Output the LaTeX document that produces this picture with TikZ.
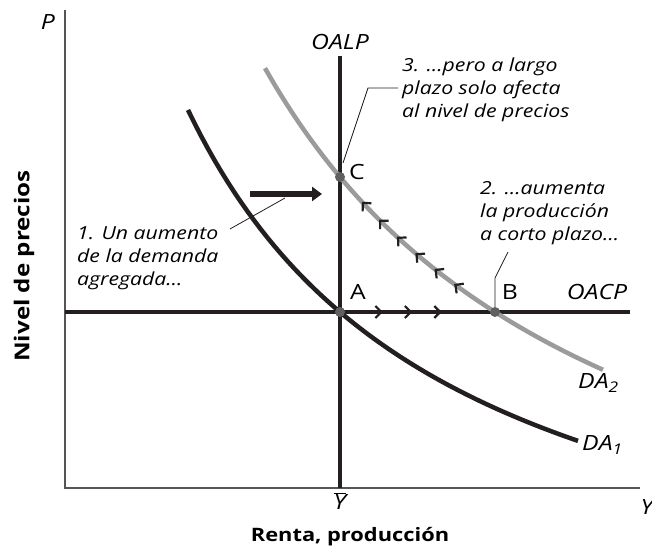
\documentclass[tikz,border=0pt]{standalone}
\usepackage{fontspec}
\setmainfont{Open Sans}[FakeStretch=1.18]
\usetikzlibrary{arrows.meta,decorations.markings}
\definecolor{curvegray}{HTML}{9B9B9B}
\definecolor{dotgray}{HTML}{606060}
\definecolor{inkblack}{HTML}{231F20}
\definecolor{axisgray}{HTML}{555555}

\begin{document}
\begin{tikzpicture}[x=1pt,y=1pt,
  curve/.style={line width=4.5pt},
  note/.style={font=\fontsize{18}{23}\selectfont\itshape, align=left, anchor=west, inner sep=0pt},
  lab/.style={font=\fontsize{21}{25}\selectfont, inner sep=0pt},
  axlab/.style={font=\fontsize{18.5}{24}\selectfont\bfseries, inner sep=0pt},
  leader/.style={line width=0.8pt, inkblack},
  eqdot/.style={fill=dotgray, circle, inner sep=0pt, minimum size=10pt},
  flowtip/.style args={#1 step #2}{decorate, decoration={markings,
    mark=between positions #1 step #2 with {\arrow[line width=2.2pt,inkblack]{Straight Barb[length=6pt,width=12pt]}}}}]
\useasboundingbox (0,0) rectangle (652,548);
% Axes
\draw[axisgray, line width=1.5pt] (65,538) -- (65,60) -- (640,60);
\node[lab, font=\fontsize{21}{25}\selectfont\itshape] (plab) at (48,526) {P};
\node[lab, font=\fontsize{21}{25}\selectfont\itshape] (ylab) at (647,41) {Y};
\node[lab] (ybar) at (340,47) {$\overline{\hbox{\fontsize{21}{25}\selectfont\itshape Y}}$};
\node[axlab] (xtitle) at (350,11) {Renta, producción};
\node[axlab, font=\fontsize{20.5}{24}\selectfont\bfseries, rotate=90] (ytitle) at (24,282) {Nivel de precios};
% Equilibrium points
\coordinate (A) at (340,236);
\coordinate (B) at (495,236);
\coordinate (C) at (340,371);
% Long-run supply
\draw[curve, inkblack] (340,60) -- (340,492);
\node[lab, font=\fontsize{21}{25}\selectfont\itshape] (oalp) at (340,506) {OALP};
% Short-run supply
\draw[curve, inkblack] (65,236) -- (630,236);
\node[lab, font=\fontsize{21}{25}\selectfont\itshape] (oacp) at (597,256) {OACP};
\path[flowtip=0.277 and 0.7 step 0.19] (A) -- (B);
% Demand curves
\draw[curve, inkblack] plot[domain=188:578, samples=60] (\x,{-120.3+1496.3/((\x+80)/100)});
\node[lab, anchor=west] (da1) at (582,103) {\itshape DA\textsubscript{1}};
\draw[curve, curvegray] plot[domain=265:603, samples=60] (\x,{-129.7+2102.8/((\x+80)/100)});
\node[lab, anchor=west] (da2) at (578,165) {\itshape DA\textsubscript{2}};
\path[flowtip=0.24 and 0.86 step 0.12] plot[domain=495:340, samples=40] (\x,{-129.7+2102.8/((\x+80)/100)});
% Dots and their letters
\node[eqdot] (dotA) at (A) {};
\node[eqdot] (dotB) at (B) {};
\node[eqdot] (dotC) at (C) {};
\node[lab] (labA) at (358,256) {A};
\node[lab] (labB) at (510,256) {B};
\node[lab] (labC) at (357,376) {C};
% Shift of demand
\coordinate (shiftstart) at (250,354);
\coordinate (shiftend) at (322,354);
\draw[line width=5.5pt, inkblack, -{Triangle[length=10pt,width=14pt]}] (shiftstart) -- (shiftend);
% Notes
\node[note] (note1) at (77,290) {1. Un aumento\\de la demanda\\agregada…};
\coordinate (lead1a) at (230,319);
\coordinate (lead1b) at (285,350);
\draw[leader] (lead1a) -- (lead1b);
\node[note] (note2) at (480,335) {2. …aumenta\\la producción\\a corto plazo…};
\coordinate (lead2a) at (508,296);
\coordinate (lead2b) at (495,270);
\draw[leader] (lead2a) -- (lead2b) -- (dotB.north);
\node[note] (note3) at (402,458) {3. …pero a largo\\plazo solo afecta\\al nivel de precios};
\coordinate (lead3a) at (343,385);
\coordinate (lead3b) at (368,460);
\coordinate (lead3c) at (398,460);
\draw[leader] (lead3a) -- (lead3b) -- (lead3c);
\end{tikzpicture}
\end{document}
